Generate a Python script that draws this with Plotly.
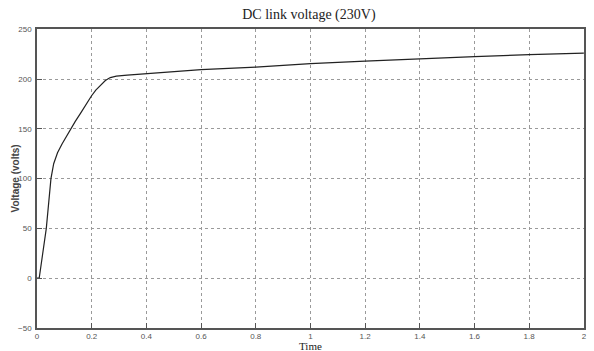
import plotly.graph_objects as go

time_s = [0, 0.008, 0.034, 0.051, 0.061, 0.075, 0.092, 0.108, 0.125, 0.14, 0.159, 0.18, 0.199, 0.215, 0.232, 0.25, 0.268, 0.29, 0.33, 0.4, 0.6, 0.8, 1.0, 1.2, 1.4, 1.6, 1.8, 2.0]
voltage = [0, 0, 50, 100, 115, 126, 135, 143, 150, 157.5, 165.5, 175, 183, 189, 194, 198.5, 201.5, 203, 204, 205.5, 209.5, 212, 215.5, 218, 220.5, 222.5, 224.5, 226]
x_ticks = [0, 0.2, 0.4, 0.6, 0.8, 1, 1.2, 1.4, 1.6, 1.8, 2]
x_tick_labels = ["0", "0.2", "0.4", "0.6", "0.8", "1", "1.2", "1.4", "1.6", "1.8", "2"]
y_ticks = [-50, 0, 50, 100, 150, 200, 250]

fig = go.Figure()
fig.add_trace(go.Scatter(x=time_s, y=voltage, mode="lines",
                         line=dict(color="#222222", width=1.2), showlegend=False))

axis_common = dict(showgrid=True, gridcolor="#9a9a9a", griddash="dot", gridwidth=1,
                   zeroline=False, showline=True, linecolor="#555555", linewidth=1.5,
                   mirror=True, ticks="inside", ticklen=5, tickcolor="#555555", automargin=False,
                   tickfont=dict(family="Arial, Liberation Sans", size=8, color="#555555"))

fig.update_layout(
    width=594, height=351,
    margin=dict(l=37, r=10, t=29, b=23),
    paper_bgcolor="white", plot_bgcolor="white",
    title=dict(text="DC link voltage (230V)", x=0.52, xanchor="center", y=0.96, yanchor="middle",
               font=dict(family="Liberation Serif, Times New Roman", size=14, color="#222222")),
    xaxis=dict(range=[0, 2.0005], tickvals=x_ticks, ticktext=x_tick_labels, **axis_common),
    yaxis=dict(range=[-50, 250.3], tickvals=y_ticks, ticklabelstandoff=2, **axis_common),
    annotations=[
        dict(text="Time", xref="paper", yref="paper", x=0.5, y=0, yshift=-18,
             xanchor="center", yanchor="middle", showarrow=False,
             font=dict(family="Liberation Serif, Times New Roman", size=11, color="#222222")),
        dict(text="<b>Voltage (volts)</b>", xref="paper", yref="paper", x=0, xshift=-22, y=0.5,
             xanchor="center", yanchor="middle", textangle=-90, showarrow=False,
             font=dict(family="Arial, Liberation Sans", size=10, color="#444444")),
    ],
)

fig.write_html("out.html", config={"displayModeBar": False},
               post_script="document.body.style.margin='0px';")
